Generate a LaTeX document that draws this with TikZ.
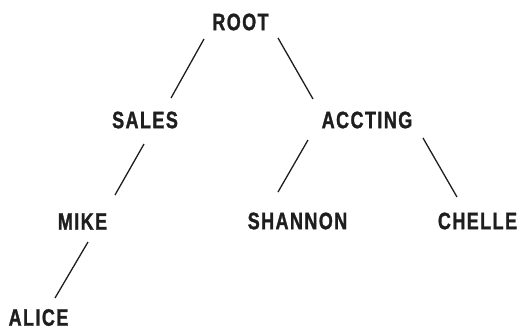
\documentclass[tikz,border=0pt]{standalone}
\usepackage{fontspec}
\setmainfont{Liberation Sans}[FakeStretch=0.76, LetterSpace=6, BoldFeatures={FakeBold=1.2}]
\usetikzlibrary{calc}
\definecolor{ink}{HTML}{1E1E1E}
\tikzset{
  lbl/.style={inner sep=0pt, text=ink, font=\fontsize{23.7}{24}\selectfont\bfseries},
  edge/.style={draw=ink, line width=1.3pt}
}
\begin{document}
\begin{tikzpicture}[x=1pt,y=-1pt]
\useasboundingbox (0,0) rectangle (519,330);
\node[lbl] (root) at (240.5,22) {ROOT};
\node[lbl] (sales) at (145,120) {SALES};
\node[lbl] (accting) at (367,120) {ACCTING};
\node[lbl] (mike) at (82.5,221.5) {MIKE};
\node[lbl] (shannon) at (297.5,221) {SHANNON};
\node[lbl] (chelle) at (477.5,221) {CHELLE};
\node[lbl] (alice) at (38.5,317.5) {ALICE};
\draw[edge] ($(root)+(-36.5,17)$) -- ($(sales)+(26,-22)$);
\draw[edge] ($(root)+(37.5,16)$) -- ($(accting)+(-54,-21)$);
\draw[edge] ($(sales)+(-1,24)$) -- ($(mike)+(32.5,-26.5)$);
\draw[edge] ($(accting)+(-59,20)$) -- ($(shannon)+(-19.5,-29)$);
\draw[edge] ($(accting)+(56,18)$) -- ($(chelle)+(-20.5,-24)$);
\draw[edge] ($(mike)+(5.5,20.5)$) -- ($(alice)+(16.5,-19.5)$);
\end{tikzpicture}
\end{document}
